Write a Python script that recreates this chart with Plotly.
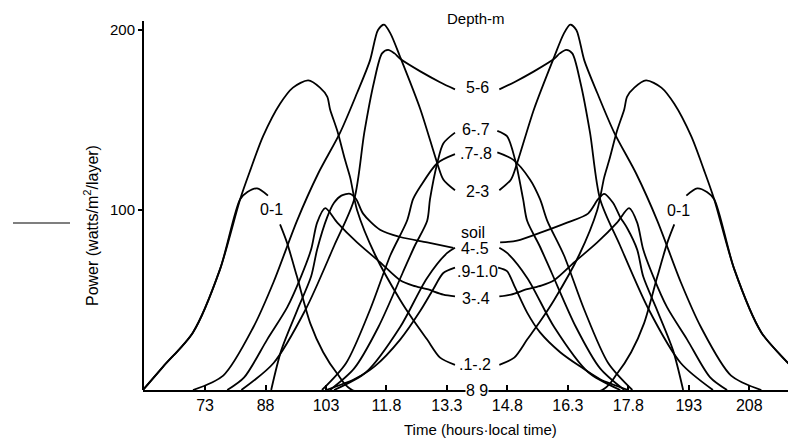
import plotly.graph_objects as go

# ---- tick labels (as printed) ----
tick_hours = [7.3, 8.8, 10.3, 11.8, 13.3, 14.8, 16.3, 17.8, 19.3, 20.8]
tick_text = ["73", "88", "103", "11.8", "13.3", "14.8", "16.3", "17.8", "193", "208"]

# ---- curves: time (h, local) and power (W/m2/layer); None = break at a label ----
t_01 = [5.76, 6.26, 7.00, 7.67, 8.17, 8.35, 8.59, 8.86, None, 9.16, 9.33, 9.58, 9.91, 10.23, 10.58, 10.95,
        17.15, 17.52, 17.87, 18.19, 18.52, 18.77, 18.94, None, 19.24, 19.51, 19.75, 19.93, 20.43, 21.10, 21.84, 22.0]
p_01 = [0, 13, 32, 67, 106, 110, 112, 108, None, 92, 82, 63, 37, 21, 9, 0,
        0, 9, 21, 37, 63, 82, 92, None, 108, 112, 110, 106, 67, 32, 13, 8]

t_12 = [5.76, 6.26, 7.00, 7.67, 8.17, 8.42, 8.74, 9.16, 9.48, 9.86, 10.15, 10.33, 10.40, 10.58, 10.77, 10.90,
        11.07, 11.52, 12.14, 12.46, 12.81, 13.13, 13.50, None, 14.60, 14.97, 15.29, 15.64, 15.96, 16.58, 17.03,
        17.20, 17.33, 17.52, 17.70, 17.77, 17.95, 18.24, 18.62, 18.94, 19.36, 19.68, 19.93, 20.43, 21.10, 21.84, 22.0]
p_12 = [0, 13, 32, 67, 106, 122, 141, 159, 168, 172, 168, 163, 156, 144, 128, 118,
        100, 75, 50, 39, 28, 18, 14, None, 14, 18, 28, 39, 50, 75, 100,
        118, 128, 144, 156, 163, 168, 172, 168, 159, 141, 122, 106, 67, 32, 13, 8]

t_23 = [7.0, 7.75, 8.5, 9.0, 9.58, 10.1, 10.65, 11.07, 11.39, 11.59, 11.74, 11.9, 12.14, 12.64, 13.06, 13.21, 13.50,
        None, 14.60, 14.89, 15.04, 15.46, 15.96, 16.2, 16.36, 16.51, 16.71, 17.03, 17.45, 18.0, 18.52, 19.1, 19.6,
        20.35, 21.1]
p_23 = [0, 8, 35, 60, 94, 120, 143, 165, 183, 200, 203, 198, 185, 156, 126, 117, 111,
        None, 111, 117, 126, 156, 185, 198, 203, 200, 183, 165, 143, 120, 94, 60, 35,
        8, 0]

t_34 = [7.85, 8.27, 8.84, 9.34, 9.68, 9.93, 10.08, 10.28, 10.58, 11.07, 11.64, 12.14, 12.46, 12.81, 13.21, 13.50,
        None, 14.60, 14.89, 15.29, 15.64, 15.96, 16.46, 17.03, 17.52, 17.82, 18.02, 18.17, 18.42, 18.76, 19.26,
        19.83, 20.25]
p_34 = [0, 7, 28, 46, 63, 78, 93, 101, 93, 82, 71, 61, 58, 56, 53, 52,
        None, 52, 53, 56, 58, 61, 71, 82, 93, 101, 93, 78, 63, 46, 28,
        7, 0]

t_45 = [10.5, 11.3, 12.14, 12.8, 13.3, 13.5, None, 14.6, 14.8, 15.3, 15.96, 16.8, 17.6]
p_45 = [0, 10, 35, 62, 76, 79, None, 79, 76, 62, 35, 10, 0]

t_56 = [8.2, 9.0, 9.8, 10.5, 11.0, 11.25, 11.49, 11.69, 11.84, 12.0, 12.14, 12.64, 13.13, 13.50,
        None, 14.60, 14.97, 15.46, 15.96, 16.10, 16.26, 16.41, 16.61, 16.85, 17.10, 17.6, 18.3, 19.1, 19.9]
p_56 = [0, 15, 45, 80, 106, 143, 171, 187, 189, 187, 184, 177, 171, 167,
        None, 167, 171, 177, 184, 187, 189, 187, 171, 143, 106, 80, 45, 15, 0]

t_67 = [10.4, 11.0, 11.6, 12.2, 12.5, 12.81, 12.88, 13.06, 13.21, 13.5,
        None, 14.55, 14.79, 14.99, 15.19, 15.29, 15.6, 15.9, 16.5, 17.1, 17.7]
p_67 = [0, 12, 35, 65, 80, 94, 106, 126, 137, 143,
        None, 144, 141, 128, 106, 94, 80, 65, 35, 12, 0]

t_78 = [10.2, 10.8, 11.4, 11.9, 12.31, 12.46, 12.64, 13.06, 13.5,
        None, 14.55, 14.94, 15.36, 15.61, 15.79, 16.2, 16.7, 17.3, 17.9]
p_78 = [0, 15, 45, 75, 94, 106, 113, 126, 131,
        None, 132, 128, 117, 106, 94, 75, 45, 15, 0]

t_910 = [10.3, 11.0, 11.5, 12.14, 12.64, 12.96, 13.21, 13.50,
         None, 14.57, 14.79, 14.99, 15.29, 15.61, 16.11, 16.61, 17.1, 17.8]
p_910 = [0, 6, 13, 28, 44, 56, 65, 68,
         None, 68, 66, 57, 43, 32, 21, 13, 6, 0]

t_soil = [8.94, 9.19, 9.58, 9.93, 10.08, 10.33, 10.5, 10.68, 10.9, 11.05, 11.22, 11.64, 12.14, 12.81, 13.46,
          None, 14.62, 15.04, 15.69, 16.28, 16.8, 17.05, 17.2, 17.42, 17.6, 17.77, 18.02, 18.17, 18.52, 18.91, 19.16]
p_soil = [0, 22, 44, 63, 78, 96, 104, 108, 109, 106, 98, 89, 85, 82, 79,
          None, 82, 83, 88, 93, 98, 106, 109, 104, 96, 90, 78, 63, 44, 22, 0]

curves = [(t_01, p_01), (t_12, p_12), (t_23, p_23), (t_34, p_34), (t_45, p_45), (t_56, p_56),
          (t_67, p_67), (t_78, p_78), (t_910, p_910), (t_soil, p_soil)]

# labels at the curves (text, hour, power)
label_text = ["5-6", "6-.7", ".7-.8", "2-3", "soil", "4-.5", ".9-1.0", "3-.4", ".1-.2", "8 9", "0-1", "0-1"]
label_hour = [14.05, 14.03, 14.03, 14.05, 13.95, 14.0, 14.05, 14.03, 14.0, 14.05, 8.96, 19.04]
label_power = [168, 145, 131.5, 110.5, 87.5, 78.5, 66, 51, 14, 0, 100.5, 100]

# page geometry: the page body adds an 8 px offset, so the figure is 8 px smaller
W, H = 788, 440
ML, MR, MT, MB = 135, 0, 0, 58
PLOT_W = W - ML - MR   # 653
PLOT_H = H - MT - MB   # 382

fig = go.Figure()
for t, p in curves:
    fig.add_trace(go.Scatter(x=t, y=p, mode="lines",
                             line=dict(color="black", width=1.8, shape="spline", smoothing=0.8),
                             connectgaps=False, hoverinfo="skip", showlegend=False))

FONT = "Liberation Sans, Arial, sans-serif"
for txt, h, pw in zip(label_text, label_hour, label_power):
    kw = dict(bgcolor="white") if txt == "8 9" else {}
    fig.add_annotation(x=h, y=pw, text=txt, showarrow=False, xanchor="center", yanchor="middle",
                       font=dict(family=FONT, size=16, color="black"), borderpad=0, **kw)

fig.add_annotation(x=14.02, y=206.5, text="Depth-m", showarrow=False,
                   font=dict(family=FONT, size=15, color="black"))


def px_x(px):
    return (px - 143) / PLOT_W


def px_y(py):
    return (390 - py) / PLOT_H


fig.add_annotation(xref="paper", yref="paper", x=px_x(480), y=px_y(430), text="Time (hours\u00b7local time)",
                   showarrow=False, font=dict(family=FONT, size=15, color="black"), yanchor="middle")
fig.add_annotation(xref="paper", yref="paper", x=px_x(91), y=px_y(226), text="Power (watts/m<sup>2</sup>/layer)",
                   showarrow=False, textangle=-90, font=dict(family=FONT, size=16, color="black"),
                   xanchor="center", yanchor="middle")

# y-axis line
fig.add_shape(type="line", xref="paper", yref="y", x0=0, x1=0, y0=0, y1=205,
              line=dict(color="black", width=2))
# stray scan stroke at the left
fig.add_shape(type="line", xref="paper", yref="paper", x0=px_x(13), x1=px_x(70), y0=px_y(223), y1=px_y(223),
              line=dict(color="black", width=1.2))

fig.update_layout(
    width=W, height=H,
    margin=dict(l=ML, r=MR, t=MT, b=MB, pad=0),
    plot_bgcolor="white", paper_bgcolor="white",
    xaxis=dict(range=[5.76, 21.96], tickvals=tick_hours, ticktext=tick_text, ticks="inside", ticklen=5,
               tickwidth=1.5, tickcolor="black", showline=True, linecolor="black", linewidth=2,
               showgrid=False, zeroline=False,
               tickfont=dict(family=FONT, size=16, color="black")),
    yaxis=dict(range=[0, PLOT_H / 1.8], tickvals=[100, 200], ticktext=["100", "200"], ticks="outside",
               ticklen=4, tickwidth=1.5, tickcolor="black", showline=False, showgrid=False, zeroline=False,
               tickfont=dict(family=FONT, size=15, color="black")),
)

fig.write_html("out.html")
